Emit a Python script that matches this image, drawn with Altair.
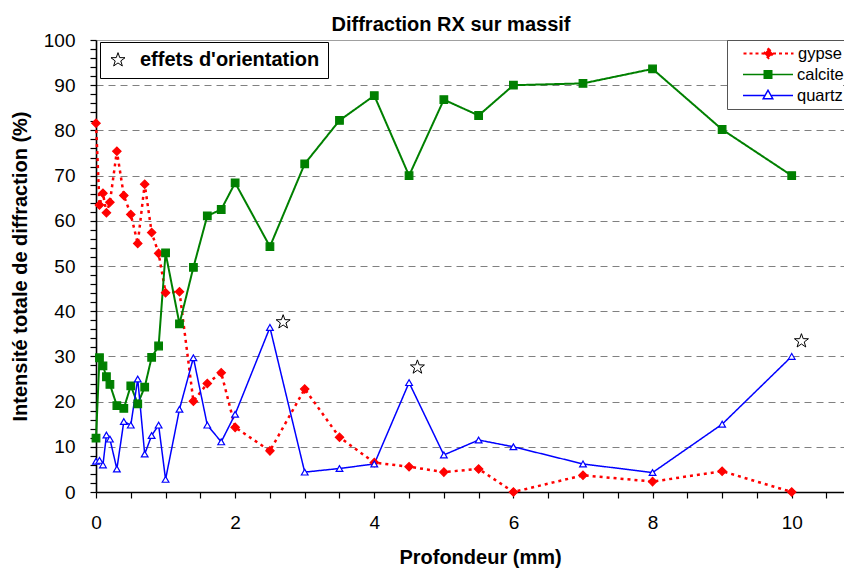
import altair as alt
import pandas as pd

# ---- data ----
depth = [0, 0.05, 0.1, 0.15, 0.2, 0.3, 0.4, 0.5, 0.6, 0.7, 0.8, 0.9, 1.0, 1.2, 1.4,
         1.6, 1.8, 2.0, 2.5, 3, 3.5, 4, 4.5, 5, 5.5, 6, 7, 8, 9, 10]
gypse = [81.6, 63.5, 66.1, 61.8, 64.1, 75.4, 65.6, 61.4, 55.0, 68.1, 57.4, 52.8, 44.1, 44.3, 20.1,
         24.0, 26.4, 14.3, 9.1, 22.8, 12.1, 6.5, 5.6, 4.4, 5.1, 0.0, 3.7, 2.3, 4.6, 0.0]
calcite = [11.9, 29.7, 27.9, 25.5, 23.8, 19.1, 18.5, 23.5, 19.5, 23.2, 29.8, 32.3, 52.9, 37.2, 49.7,
           61.1, 62.5, 68.4, 54.3, 72.6, 82.2, 87.7, 70.0, 86.8, 83.3, 90.0, 90.4, 93.6, 80.2, 70.0]
quartz = [6.8, 7.0, 6.0, 12.6, 11.7, 5.1, 15.6, 14.8, 25.0, 8.4, 12.5, 14.8, 2.8, 18.3, 29.7,
          14.8, 11.1, 17.2, 36.4, 4.4, 5.2, 6.2, 24.2, 8.2, 11.5, 10.0, 6.2, 4.3, 15.0, 30.0]
series_names = ["gypse", "calcite", "quartz"]
series_colors = ["#ff0000", "#008000", "#0000ff"]
series_fills = ["#ff0000", "#008000", "#ffffff"]

star_x = [2.69, 4.62, 10.14]
star_y = [37.6, 27.6, 33.4]
star_label = "effets d'orientation"

FONT = "Liberation Sans"

rows = []
for name, vals in zip(series_names, [gypse, calcite, quartz]):
    for d, v in zip(depth, vals):
        rows.append({"serie": name, "profondeur": d, "intensite": v})
df = pd.DataFrame(rows)
stars = pd.DataFrame({"profondeur": star_x, "intensite": star_y,
                      "label": [star_label] * len(star_x)})

PLOT_W, PLOT_H = 748, 452
X_MAX = PLOT_W / 69.57  # plot area runs past 10 mm to the right edge
xscale = alt.Scale(domain=[0, X_MAX], nice=False, zero=False)
yscale = alt.Scale(domain=[0, 100], nice=False)

x_axis = alt.Axis(
    values=[i * 0.5 for i in range(22)],
    labelExpr="datum.value % 2 === 0 ? format(datum.value, 'd') : ''",
    title="Profondeur (mm)", titleFontSize=20, titleFontWeight="bold", titleFont=FONT,
    titleColor="black", titlePadding=15, titleX=384,
    labelFontSize=19, labelFont=FONT, labelColor="black", labelPadding=15,
    tickSize=6, tickColor="black", tickWidth=1.2, domainColor="black", domainWidth=1.6,
    grid=False, labelFlush=False, labelOverlap=False,
)
y_axis = alt.Axis(
    values=list(range(0, 101, 2)),
    labelExpr="datum.value % 10 === 0 ? datum.label : ''",
    title="Intensité totale de diffraction (%)", titleFontSize=20, titleFontWeight="bold",
    titleFont=FONT, titleColor="black", titlePadding=13,
    labelFontSize=19, labelFont=FONT, labelColor="black", labelPadding=15,
    tickSize=6, tickColor="black", tickWidth=1.2, domainColor="black", domainWidth=1.6,
    grid=True, gridColor="#808080", gridWidth=1,
    gridDash={"expr": "datum.value === 100 ? [1, 0] : [7, 5]"},
    gridOpacity={"expr": "(datum.value % 10 === 0 && datum.value > 0) ? 1 : 0"},
    labelFlush=False, labelOverlap=False,
)

X = alt.X("profondeur:Q", scale=xscale, axis=x_axis)
Y = alt.Y("intensite:Q", scale=yscale, axis=y_axis)

# legend geometry (box in the upper right of the plot)
LEG_X, LEG_Y, LEG_PAD, LEG_SYM_OFF, ROW_H = 631, 0, 3, 12, 21
SYM_SIZE = 2500  # custom legend symbols span +-1 -> +-25 px
LEG_FONT = 16.5

lines = alt.Chart(df).mark_line().encode(
    x=X, y=Y,
    stroke=alt.Stroke("serie:N", scale=alt.Scale(domain=series_names, range=series_colors), legend=None),
    strokeDash=alt.StrokeDash("serie:N", scale=alt.Scale(domain=series_names, range=[[3, 4], [1, 0], [1, 0]]), legend=None),
    strokeWidth=alt.StrokeWidth("serie:N", scale=alt.Scale(domain=series_names, range=[2.5, 1.5, 1.5]), legend=None),
    detail="serie:N",
)

points = alt.Chart(df).mark_point(filled=True, opacity=1, strokeWidth=1.2).encode(
    x=X, y=Y,
    shape=alt.Shape("serie:N", scale=alt.Scale(domain=series_names, range=["diamond", "square", "triangle-up"]), legend=None),
    size=alt.Size("serie:N", scale=alt.Scale(domain=series_names, range=[70, 45, 100]), legend=None),
    stroke=alt.Stroke("serie:N", scale=alt.Scale(domain=series_names, range=series_colors), legend=None),
    fill=alt.Fill("serie:N", scale=alt.Scale(domain=series_names, range=series_fills), legend=None),
)

# legend frame: one invisible entry per series, only the border is seen
frame_df = pd.DataFrame({"serie": series_names, "profondeur": [None] * 3, "intensite": [None] * 3})
frame_layer = alt.Chart(frame_df).mark_point(opacity=0).encode(
    x=X, y=Y,
    shape=alt.Shape("serie:N", scale=alt.Scale(domain=series_names),
                    legend=alt.Legend(
                        title=None, orient="none", legendX=LEG_X, legendY=LEG_Y, direction="vertical",
                        symbolSize=SYM_SIZE, symbolOpacity=0, clipHeight=ROW_H, rowPadding=0,
                        labelFontSize=LEG_FONT, labelFont=FONT, labelOpacity=0, labelOffset=3,
                        padding=LEG_PAD, symbolOffset=LEG_SYM_OFF, strokeColor="#555555")),
)

# legend entries (line + marker + label), one legend per series
legend_paths = [
    "M-1,0H-0.18M0.18,0H1M0,-0.18L0.18,0L0,0.18L-0.18,0Z",
    "M-1,0H-0.15M0.15,0H1M-0.15,-0.15H0.15V0.15H-0.15Z",
    "M-1,0H-0.119M0.119,0H1M-0.19,0.125L0,-0.21L0.19,0.125Z",
]
legend_width = [2.2, 1.5, 1.5]
legend_layers = []
for i, name in enumerate(series_names):
    dfl = pd.DataFrame({"serie": [name], "profondeur": [None], "intensite": [None]})
    leg_kwargs = dict(
        title=None, orient="none", legendX=LEG_X + 1,
        legendY=LEG_Y + LEG_PAD + ROW_H * i, symbolSize=SYM_SIZE,
        clipHeight=ROW_H, padding=0, symbolOffset=LEG_PAD + LEG_SYM_OFF - 1,
        labelFontSize=LEG_FONT, labelFont=FONT, labelColor="black", labelOffset=3,
        symbolStrokeWidth=legend_width[i], fillColor="white")
    if name == "gypse":
        leg_kwargs["symbolDash"] = [3, 3]
    mark_kwargs = dict(filled=True, fill=series_fills[i], stroke=series_colors[i],
                       strokeWidth=legend_width[i], opacity=1)
    if name == "gypse":
        mark_kwargs["strokeDash"] = [3, 3]
    lay = alt.Chart(dfl).mark_point(**mark_kwargs).encode(
        x=X, y=Y,
        shape=alt.Shape("serie:N", scale=alt.Scale(domain=[name], range=[legend_paths[i]]),
                        legend=alt.Legend(**leg_kwargs)),
    )
    legend_layers.append(lay)

star_path = ("M0,-1L0.235,-0.324L0.951,-0.309L0.38,0.124L0.588,0.809L0,0.4L-0.588,0.809"
             "L-0.38,0.124L-0.951,-0.309L-0.235,-0.324Z")
star_layer = alt.Chart(stars).mark_point(filled=True, fill="white", stroke="black",
                                         strokeWidth=1, opacity=1, size=217).encode(
    x=X, y=Y,
    shape=alt.Shape("label:N", scale=alt.Scale(range=[star_path]),
                    legend=alt.Legend(
                        title=None, orient="none", legendX=4, legendY=2,
                        labelFontSize=20, labelFontWeight="bold", labelFont=FONT,
                        labelColor="black", labelOffset=12, padding=8, symbolSize=217,
                        symbolStrokeWidth=1, strokeColor="black", fillColor="white",
                        labelLimit=400)),
)

chart = alt.layer(lines, points, *legend_layers, frame_layer, star_layer).resolve_scale(
    shape="independent").properties(
    width=PLOT_W, height=PLOT_H,
    title=alt.TitleParams("Diffraction RX sur massif", fontSize=20, fontWeight="bold",
                          font=FONT, color="black", anchor="middle", dx=-19, offset=-4),
    autosize=alt.AutoSizeParams(type="none"),
    padding={"left": 88, "top": 32, "right": 0, "bottom": 78},
    background="white",
).configure_view(stroke=None)

chart.save("out.html", embed_options={"renderer": "svg", "actions": False})
